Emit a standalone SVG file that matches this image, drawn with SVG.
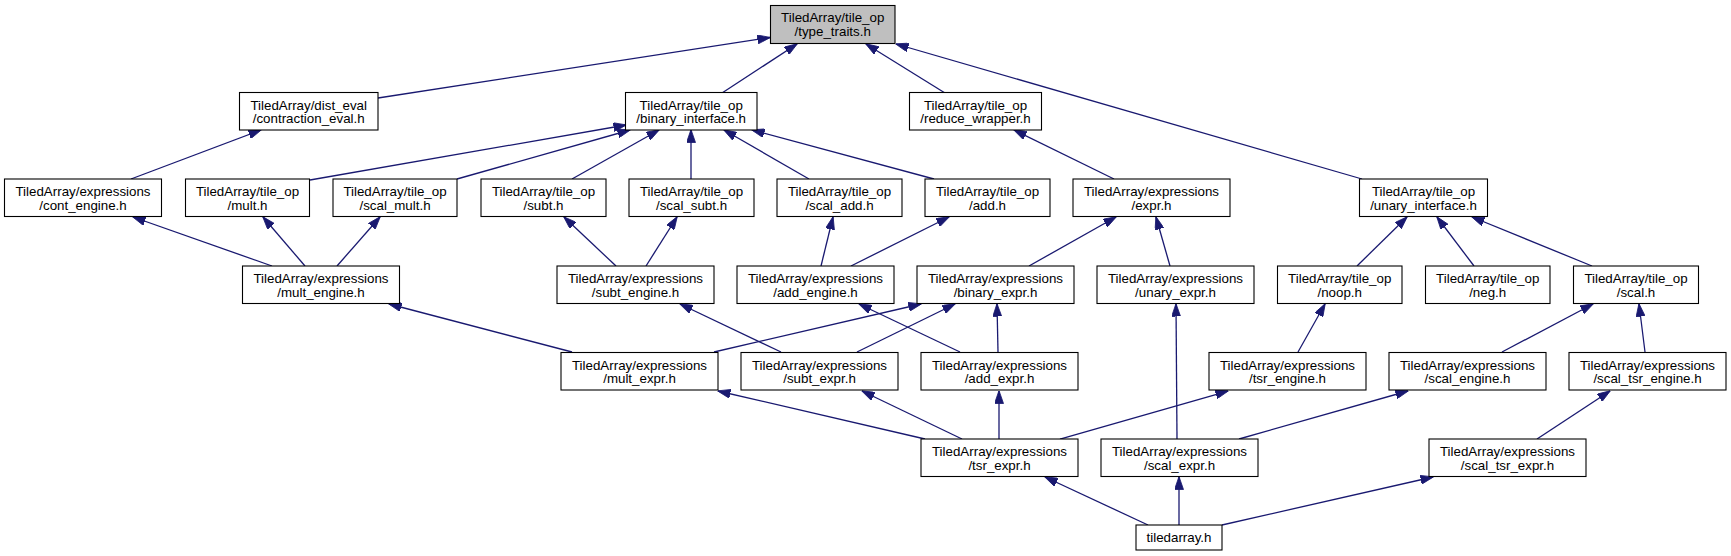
<svg xmlns="http://www.w3.org/2000/svg" width="1731" height="556" viewBox="0 0 1731 556">
<style>
.n rect{fill:#fff;stroke:#000;stroke-width:1.1}
.n.g rect{fill:#bfbfbf}
.n text{font-family:"Liberation Sans",Arial,sans-serif;font-size:13.33px;fill:#000;text-anchor:middle}
.e line{stroke:#191970;stroke-width:1.3;fill:none;marker-end:url(#ah)}
</style>
<defs>
<marker id="ah" markerUnits="userSpaceOnUse" viewBox="0 0 13 9" markerWidth="13" markerHeight="9" refX="12.5" refY="4.5" orient="auto">
<path d="M0,0 L13,4.5 L0,9 z" fill="#191970" stroke="#191970" stroke-width="0.8"/>
</marker>
</defs>
<rect width="1731" height="556" fill="#fff"/>
<g id="edges" class="e">
<line x1="378" y1="98" x2="770" y2="37.5"/>
<line x1="722" y1="93" x2="797" y2="44"/>
<line x1="945" y1="93" x2="866" y2="44"/>
<line x1="1362" y1="179" x2="896" y2="44"/>
<line x1="310" y1="180" x2="626" y2="125"/>
<line x1="457" y1="179" x2="630" y2="130"/>
<line x1="572" y1="179" x2="659" y2="130"/>
<line x1="691" y1="179" x2="691" y2="130"/>
<line x1="809" y1="179" x2="724" y2="130"/>
<line x1="934" y1="179" x2="752" y2="130"/>
<line x1="131" y1="179" x2="261" y2="130"/>
<line x1="1114" y1="179" x2="1014" y2="130"/>
<line x1="272" y1="266" x2="133" y2="217"/>
<line x1="305" y1="266" x2="263" y2="217"/>
<line x1="337" y1="266" x2="380" y2="217"/>
<line x1="616" y1="266" x2="564" y2="217"/>
<line x1="646" y1="266" x2="677" y2="217"/>
<line x1="821" y1="266" x2="833" y2="217"/>
<line x1="851" y1="266" x2="949" y2="217"/>
<line x1="1029" y1="266" x2="1116" y2="217"/>
<line x1="1170" y1="266" x2="1156" y2="217"/>
<line x1="1357" y1="266" x2="1407" y2="217"/>
<line x1="1474" y1="266" x2="1437" y2="217"/>
<line x1="1592" y1="266" x2="1472" y2="217"/>
<line x1="572" y1="352" x2="389" y2="304"/>
<line x1="714" y1="352" x2="921" y2="304"/>
<line x1="781" y1="352" x2="680" y2="304"/>
<line x1="857" y1="352" x2="955" y2="304"/>
<line x1="960" y1="352" x2="859" y2="304"/>
<line x1="998" y1="352" x2="997" y2="304"/>
<line x1="1298" y1="352" x2="1325" y2="304"/>
<line x1="1502" y1="352" x2="1593" y2="304"/>
<line x1="1645" y1="352" x2="1639" y2="304"/>
<line x1="925" y1="439" x2="718" y2="391"/>
<line x1="962" y1="439" x2="862" y2="391"/>
<line x1="999" y1="439" x2="999" y2="391"/>
<line x1="1060" y1="439" x2="1228" y2="391"/>
<line x1="1177" y1="439" x2="1176" y2="304"/>
<line x1="1239" y1="439" x2="1408" y2="391"/>
<line x1="1537" y1="439" x2="1610" y2="391"/>
<line x1="1148" y1="525" x2="1045" y2="477"/>
<line x1="1179" y1="525" x2="1179" y2="477"/>
<line x1="1222" y1="525" x2="1433" y2="477"/>
</g>
<g id="type_traits" class="n g"><rect x="770.5" y="5.5" width="124.5" height="38"/><text x="832.7" y="22">TiledArray/tile_op</text><text x="832.7" y="35.5">/type_traits.h</text></g>
<g id="contraction_eval" class="n"><rect x="239.5" y="92.5" width="138.5" height="37.5"/><text x="308.7" y="109.5">TiledArray/dist_eval</text><text x="308.7" y="123">/contraction_eval.h</text></g>
<g id="binary_interface" class="n"><rect x="625.5" y="92.5" width="131.5" height="37.5"/><text x="691.2" y="109.5">TiledArray/tile_op</text><text x="691.2" y="123">/binary_interface.h</text></g>
<g id="reduce_wrapper" class="n"><rect x="909.5" y="92.5" width="132" height="37.5"/><text x="975.5" y="109.5">TiledArray/tile_op</text><text x="975.5" y="123">/reduce_wrapper.h</text></g>
<g id="cont_engine" class="n"><rect x="4.5" y="179" width="157" height="37.5"/><text x="83" y="196">TiledArray/expressions</text><text x="83" y="209.5">/cont_engine.h</text></g>
<g id="mult" class="n"><rect x="185.5" y="179" width="124" height="37.5"/><text x="247.5" y="196">TiledArray/tile_op</text><text x="247.5" y="209.5">/mult.h</text></g>
<g id="scal_mult" class="n"><rect x="333" y="179" width="124" height="37.5"/><text x="395" y="196">TiledArray/tile_op</text><text x="395" y="209.5">/scal_mult.h</text></g>
<g id="subt" class="n"><rect x="481" y="179" width="125" height="37.5"/><text x="543.5" y="196">TiledArray/tile_op</text><text x="543.5" y="209.5">/subt.h</text></g>
<g id="scal_subt" class="n"><rect x="629" y="179" width="125" height="37.5"/><text x="691.5" y="196">TiledArray/tile_op</text><text x="691.5" y="209.5">/scal_subt.h</text></g>
<g id="scal_add" class="n"><rect x="777" y="179" width="125" height="37.5"/><text x="839.5" y="196">TiledArray/tile_op</text><text x="839.5" y="209.5">/scal_add.h</text></g>
<g id="add" class="n"><rect x="925" y="179" width="125" height="37.5"/><text x="987.5" y="196">TiledArray/tile_op</text><text x="987.5" y="209.5">/add.h</text></g>
<g id="expr" class="n"><rect x="1073" y="179" width="157" height="37.5"/><text x="1151.5" y="196">TiledArray/expressions</text><text x="1151.5" y="209.5">/expr.h</text></g>
<g id="unary_interface" class="n"><rect x="1359.5" y="179" width="128" height="37.5"/><text x="1423.5" y="196">TiledArray/tile_op</text><text x="1423.5" y="209.5">/unary_interface.h</text></g>
<g id="mult_engine" class="n"><rect x="242.5" y="266" width="157" height="37.5"/><text x="321" y="283">TiledArray/expressions</text><text x="321" y="296.5">/mult_engine.h</text></g>
<g id="subt_engine" class="n"><rect x="557" y="266" width="157" height="37.5"/><text x="635.5" y="283">TiledArray/expressions</text><text x="635.5" y="296.5">/subt_engine.h</text></g>
<g id="add_engine" class="n"><rect x="737" y="266" width="157" height="37.5"/><text x="815.5" y="283">TiledArray/expressions</text><text x="815.5" y="296.5">/add_engine.h</text></g>
<g id="binary_expr" class="n"><rect x="917" y="266" width="157" height="37.5"/><text x="995.5" y="283">TiledArray/expressions</text><text x="995.5" y="296.5">/binary_expr.h</text></g>
<g id="unary_expr" class="n"><rect x="1097" y="266" width="157" height="37.5"/><text x="1175.5" y="283">TiledArray/expressions</text><text x="1175.5" y="296.5">/unary_expr.h</text></g>
<g id="noop" class="n"><rect x="1277.5" y="266" width="124.5" height="37.5"/><text x="1339.7" y="283">TiledArray/tile_op</text><text x="1339.7" y="296.5">/noop.h</text></g>
<g id="neg" class="n"><rect x="1425.5" y="266" width="124.5" height="37.5"/><text x="1487.7" y="283">TiledArray/tile_op</text><text x="1487.7" y="296.5">/neg.h</text></g>
<g id="scal" class="n"><rect x="1573.5" y="266" width="125" height="37.5"/><text x="1636" y="283">TiledArray/tile_op</text><text x="1636" y="296.5">/scal.h</text></g>
<g id="mult_expr" class="n"><rect x="561" y="352.5" width="157" height="37.5"/><text x="639.5" y="369.5">TiledArray/expressions</text><text x="639.5" y="383">/mult_expr.h</text></g>
<g id="subt_expr" class="n"><rect x="741" y="352.5" width="157" height="37.5"/><text x="819.5" y="369.5">TiledArray/expressions</text><text x="819.5" y="383">/subt_expr.h</text></g>
<g id="add_expr" class="n"><rect x="921" y="352.5" width="157" height="37.5"/><text x="999.5" y="369.5">TiledArray/expressions</text><text x="999.5" y="383">/add_expr.h</text></g>
<g id="tsr_engine" class="n"><rect x="1209" y="352.5" width="157" height="37.5"/><text x="1287.5" y="369.5">TiledArray/expressions</text><text x="1287.5" y="383">/tsr_engine.h</text></g>
<g id="scal_engine" class="n"><rect x="1389" y="352.5" width="157" height="37.5"/><text x="1467.5" y="369.5">TiledArray/expressions</text><text x="1467.5" y="383">/scal_engine.h</text></g>
<g id="scal_tsr_engine" class="n"><rect x="1569" y="352.5" width="157" height="37.5"/><text x="1647.5" y="369.5">TiledArray/expressions</text><text x="1647.5" y="383">/scal_tsr_engine.h</text></g>
<g id="tsr_expr" class="n"><rect x="921" y="439" width="157" height="37.5"/><text x="999.5" y="456">TiledArray/expressions</text><text x="999.5" y="469.5">/tsr_expr.h</text></g>
<g id="scal_expr" class="n"><rect x="1101" y="439" width="157" height="37.5"/><text x="1179.5" y="456">TiledArray/expressions</text><text x="1179.5" y="469.5">/scal_expr.h</text></g>
<g id="scal_tsr_expr" class="n"><rect x="1429" y="439" width="157" height="37.5"/><text x="1507.5" y="456">TiledArray/expressions</text><text x="1507.5" y="469.5">/scal_tsr_expr.h</text></g>
<g id="tiledarray" class="n"><rect x="1136" y="525" width="86" height="25"/><text x="1179" y="541.5">tiledarray.h</text></g>
</svg>
